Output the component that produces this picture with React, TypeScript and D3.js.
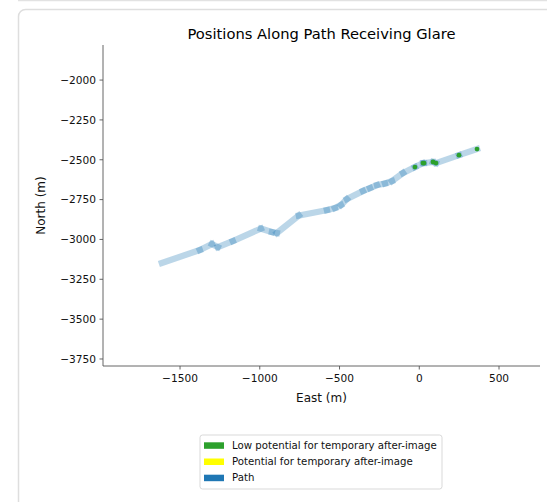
import React from 'react';
import * as d3 from 'd3';

// path vertices, metres (east, north)
const pathEast = [-1614, -1376, -1300, -1263, -1169, -993, -924, -893, -755, -579, -529, -491, -454, -353, -309, -265, -215, -171, -102, -27, 23, 30, 86, 105, 249, 362];
const pathNorth = [-3148, -3066, -3029, -3048, -3010, -2932, -2954, -2960, -2850, -2816, -2803, -2784, -2747, -2696, -2678, -2659, -2649, -2634, -2583, -2546, -2521, -2521, -2514, -2521, -2471, -2433];

// points with low potential for after-image
const glareEast = [-27, 23, 30, 86, 105, 249, 362];
const glareNorth = [-2546, -2521, -2521, -2514, -2521, -2471, -2433];

const xTicks = [-1500, -1000, -500, 0, 500];
const yTicks = [-2000, -2250, -2500, -2750, -3000, -3250, -3500, -3750];

const legendLabels = ['Low potential for temporary after-image', 'Potential for temporary after-image', 'Path'];
const legendColors = ['#2ca02c', '#ffff00', '#1f77b4'];

const FONT = '"DejaVu Sans", sans-serif';

export default function App() {
  const left = 103, right = 540, top = 45, bottom = 366;
  const x = d3.scaleLinear().domain([-1983, 757]).range([left, right]);
  const y = d3.scaleLinear().domain([-3794, -1780]).range([bottom, top]);
  const fmt = (v: number) => String(v).replace('-', '\u2212');

  const segs = pathEast.slice(1).map((e, i) => ({
    x1: x(pathEast[i]), y1: y(pathNorth[i]), x2: x(e), y2: y(pathNorth[i + 1]),
  }));

  const legX = 200, legY = 435, legW = 242, legH = 54;

  return (
    <svg width={547} height={502} style={{ position: 'absolute', left: 0, top: 0, background: '#fff' }}>
      {/* card frame */}
      <line x1={18} y1={0.5} x2={547} y2={0.5} stroke="#e2e2e2" strokeWidth={1.5} />
      <rect x={18.5} y={9.5} width={560} height={520} rx={7} fill="#fff" stroke="#dedede" strokeWidth={1.5} />

      <text x={(left + right) / 2} y={39} textAnchor="middle" fontFamily={FONT} fontSize={14.7} fill="#000">
        Positions Along Path Receiving Glare
      </text>

      {/* path segments */}
      <g>
        {segs.map((s, i) => (
          <line key={i} x1={s.x1} y1={s.y1} x2={s.x2} y2={s.y2}
            stroke="#1f77b4" strokeOpacity={0.3} strokeWidth={6.3} strokeLinecap="square" />
        ))}
      </g>
      <g>
        {glareEast.map((e, i) => (
          <circle key={i} cx={x(e)} cy={y(glareNorth[i])} r={2.4} fill="#2ca02c" />
        ))}
      </g>

      {/* axes */}
      <line x1={left} y1={top} x2={left} y2={bottom} stroke="#555" strokeWidth={0.9} />
      <line x1={left} y1={bottom} x2={right} y2={bottom} stroke="#555" strokeWidth={0.9} />
      {xTicks.map(t => (
        <g key={t}>
          <line x1={x(t)} x2={x(t)} y1={bottom} y2={bottom + 3.5} stroke="#555" strokeWidth={0.9} />
          <text x={x(t)} y={bottom + 16} textAnchor="middle" fontFamily={FONT} fontSize={10.6} fill="#111">{fmt(t)}</text>
        </g>
      ))}
      {yTicks.map(t => (
        <g key={t}>
          <line x1={left - 3.5} x2={left} y1={y(t)} y2={y(t)} stroke="#555" strokeWidth={0.9} />
          <text x={left - 7} y={y(t) + 3.8} textAnchor="end" fontFamily={FONT} fontSize={10.6} fill="#111">{fmt(t)}</text>
        </g>
      ))}
      <text x={(left + right) / 2} y={402} textAnchor="middle" fontFamily={FONT} fontSize={12} fill="#111">East (m)</text>
      <text transform={`translate(45,${(top + bottom) / 2}) rotate(-90)`} textAnchor="middle" fontFamily={FONT} fontSize={12} fill="#111">North (m)</text>

      {/* legend */}
      <rect x={legX} y={legY} width={legW} height={legH} rx={2.5} fill="#fff" stroke="#d5d5d5" strokeWidth={0.9} />
      {legendLabels.map((l, i) => (
        <g key={l}>
          <rect x={204} y={legY + 7.3 + i * 16.2} width={20} height={6.5} fill={legendColors[i]} />
          <text x={232} y={legY + 14 + i * 16.2} fontFamily={FONT} fontSize={10.2} fill="#111">{l}</text>
        </g>
      ))}
    </svg>
  );
}
